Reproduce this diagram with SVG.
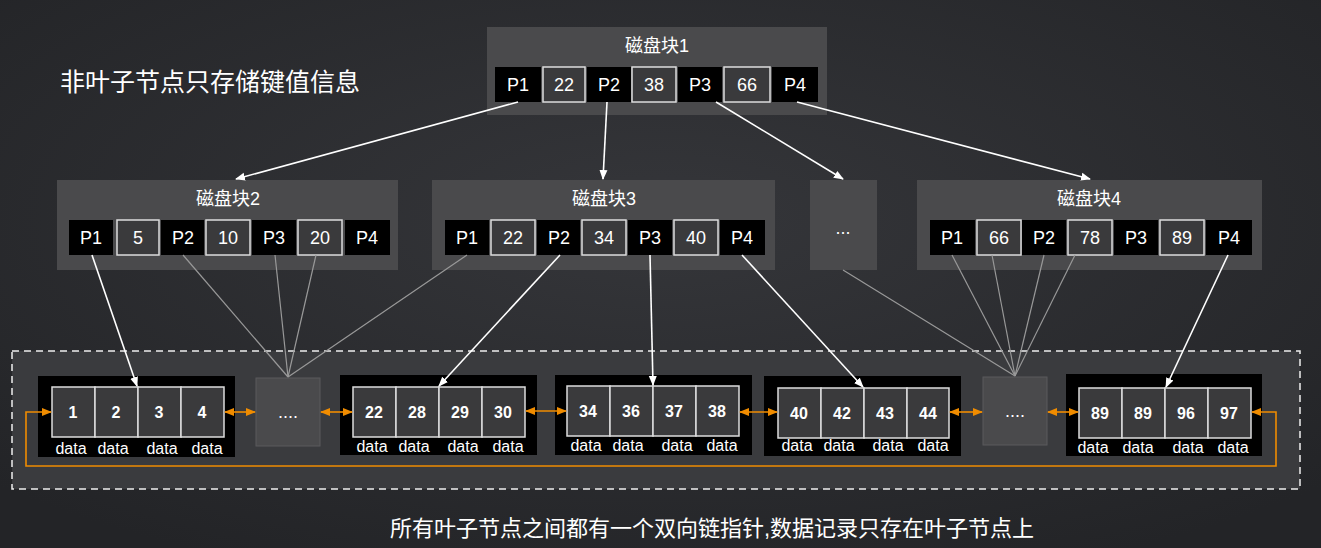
<svg xmlns="http://www.w3.org/2000/svg" width="1321" height="548" viewBox="0 0 1321 548">
<defs>
<marker id="aw" markerWidth="10" markerHeight="10" refX="9" refY="5" orient="auto" markerUnits="userSpaceOnUse"><path d="M0,1 L10,5 L0,9 Z" fill="#fff"/></marker>
<marker id="ao" markerWidth="10" markerHeight="10" refX="9" refY="5" orient="auto-start-reverse" markerUnits="userSpaceOnUse"><path d="M0,1 L10,5 L0,9 Z" fill="#f08c00"/></marker>
<radialGradient id="bg" cx="50%" cy="40%" r="70%"><stop offset="0" stop-color="#35363a"/><stop offset="1" stop-color="#232427"/></radialGradient>
</defs>
<style>
text{font-family:"Liberation Sans","Noto Sans CJK SC",sans-serif;fill:#fff}
.blk{fill:#4a4a4c}
.p{fill:#000}
.k{fill:#3a3a3c;stroke:#ddd;stroke-width:1.5}
.t{font-size:18px;text-anchor:middle}
.c{font-size:18px;text-anchor:middle}
.n{font-size:16px;font-weight:bold;text-anchor:middle}
.d{font-size:16px;text-anchor:middle}
.w{stroke:#fff;stroke-width:1.6;fill:none}
.g{stroke:#999;stroke-width:1.2;fill:none}
.o{stroke:#f08c00;stroke-width:1.6;fill:none}
.dots{fill:#4a4a4c;stroke:#5a5a5c}
</style>
<rect width="1321" height="548" fill="url(#bg)"/>
<rect x="12" y="351" width="1288" height="138" fill="#3a3b3e" stroke="#eee" stroke-width="1.5" stroke-dasharray="7,5"/>
<text x="60" y="91" font-size="25">非叶子节点只存储键值信息</text>
<text x="712" y="536" font-size="22" text-anchor="middle">所有叶子节点之间都有一个双向链指针,数据记录只存在叶子节点上</text>

<g id="root">
<rect class="blk" x="487" y="27" width="340" height="88"/>
<text class="t" x="657" y="52">磁盘块1</text>
<rect class="p" x="495" y="67" width="46" height="35"/><text class="c" x="518" y="91">P1</text>
<rect class="k" x="543" y="67" width="42" height="35"/><text class="c" x="564" y="91">22</text>
<rect class="p" x="587" y="67" width="44" height="35"/><text class="c" x="609" y="91">P2</text>
<rect class="k" x="632" y="67" width="44" height="35"/><text class="c" x="654" y="91">38</text>
<rect class="p" x="678" y="67" width="44" height="35"/><text class="c" x="700" y="91">P3</text>
<rect class="k" x="724" y="67" width="46" height="35"/><text class="c" x="747" y="91">66</text>
<rect class="p" x="772" y="67" width="46" height="35"/><text class="c" x="795" y="91">P4</text>
</g>

<g id="block2">
<rect class="blk" x="57" y="180" width="341" height="90"/>
<text class="t" x="228" y="205">磁盘块2</text>
<rect class="p" x="69" y="220" width="44" height="35"/><text class="c" x="91" y="244">P1</text>
<rect class="k" x="117" y="220" width="42" height="35"/><text class="c" x="138" y="244">5</text>
<rect class="p" x="161" y="220" width="43" height="35"/><text class="c" x="183" y="244">P2</text>
<rect class="k" x="206" y="220" width="44" height="35"/><text class="c" x="228" y="244">10</text>
<rect class="p" x="252" y="220" width="44" height="35"/><text class="c" x="274" y="244">P3</text>
<rect class="k" x="298" y="220" width="44" height="35"/><text class="c" x="320" y="244">20</text>
<rect class="p" x="345" y="220" width="45" height="35"/><text class="c" x="367" y="244">P4</text>
</g>

<g id="block3">
<rect class="blk" x="432" y="180" width="343" height="90"/>
<text class="t" x="604" y="205">磁盘块3</text>
<rect class="p" x="445" y="220" width="44" height="35"/><text class="c" x="467" y="244">P1</text>
<rect class="k" x="491" y="220" width="44" height="35"/><text class="c" x="513" y="244">22</text>
<rect class="p" x="537" y="220" width="43" height="35"/><text class="c" x="559" y="244">P2</text>
<rect class="k" x="582" y="220" width="44" height="35"/><text class="c" x="604" y="244">34</text>
<rect class="p" x="628" y="220" width="44" height="35"/><text class="c" x="650" y="244">P3</text>
<rect class="k" x="674" y="220" width="44" height="35"/><text class="c" x="696" y="244">40</text>
<rect class="p" x="720" y="220" width="45" height="35"/><text class="c" x="742" y="244">P4</text>
</g>

<g id="blockdots">
<rect class="blk" x="810" y="180" width="67" height="90"/>
<text class="c" x="843" y="234">...</text>
</g>

<g id="block4">
<rect class="blk" x="917" y="180" width="345" height="90"/>
<text class="t" x="1089" y="205">磁盘块4</text>
<rect class="p" x="930" y="220" width="45" height="35"/><text class="c" x="952" y="244">P1</text>
<rect class="k" x="977" y="220" width="44" height="35"/><text class="c" x="999" y="244">66</text>
<rect class="p" x="1022" y="220" width="44" height="35"/><text class="c" x="1044" y="244">P2</text>
<rect class="k" x="1068" y="220" width="44" height="35"/><text class="c" x="1090" y="244">78</text>
<rect class="p" x="1114" y="220" width="44" height="35"/><text class="c" x="1136" y="244">P3</text>
<rect class="k" x="1160" y="220" width="44" height="35"/><text class="c" x="1182" y="244">89</text>
<rect class="p" x="1206" y="220" width="46" height="35"/><text class="c" x="1229" y="244">P4</text>
</g>

<g id="leaf1">
<rect class="p" x="38" y="376" width="197" height="81"/>
<rect class="k" x="52" y="387" width="43" height="50"/><rect class="k" x="95" y="387" width="43" height="50"/><rect class="k" x="138" y="387" width="43" height="50"/><rect class="k" x="181" y="387" width="43" height="50"/>
<text class="n" x="73" y="418">1</text><text class="n" x="116" y="418">2</text><text class="n" x="159" y="418">3</text><text class="n" x="202" y="418">4</text>
<text class="d" x="71" y="454">data</text><text class="d" x="113" y="454">data</text><text class="d" x="162" y="454">data</text><text class="d" x="207" y="454">data</text>
</g>
<g id="dots1"><rect class="dots" x="256" y="378" width="64" height="68"/><text class="c" x="288" y="418">....</text></g>
<g id="leaf2">
<rect class="p" x="340" y="375" width="197" height="80"/>
<rect class="k" x="353" y="387" width="43" height="50"/><rect class="k" x="396" y="387" width="43" height="50"/><rect class="k" x="439" y="387" width="43" height="50"/><rect class="k" x="482" y="387" width="43" height="50"/>
<text class="n" x="374" y="418">22</text><text class="n" x="417" y="418">28</text><text class="n" x="460" y="418">29</text><text class="n" x="503" y="418">30</text>
<text class="d" x="372" y="452">data</text><text class="d" x="414" y="452">data</text><text class="d" x="463" y="452">data</text><text class="d" x="508" y="452">data</text>
</g>
<g id="leaf3">
<rect class="p" x="555" y="375" width="197" height="80"/>
<rect class="k" x="567" y="386" width="43" height="50"/><rect class="k" x="610" y="386" width="43" height="50"/><rect class="k" x="653" y="386" width="43" height="50"/><rect class="k" x="696" y="386" width="43" height="50"/>
<text class="n" x="588" y="417">34</text><text class="n" x="631" y="417">36</text><text class="n" x="674" y="417">37</text><text class="n" x="717" y="417">38</text>
<text class="d" x="586" y="451">data</text><text class="d" x="628" y="451">data</text><text class="d" x="677" y="451">data</text><text class="d" x="722" y="451">data</text>
</g>
<g id="leaf4">
<rect class="p" x="764" y="376" width="197" height="80"/>
<rect class="k" x="778" y="388" width="43" height="50"/><rect class="k" x="821" y="388" width="43" height="50"/><rect class="k" x="864" y="388" width="43" height="50"/><rect class="k" x="907" y="388" width="42" height="50"/>
<text class="n" x="799" y="419">40</text><text class="n" x="842" y="419">42</text><text class="n" x="885" y="419">43</text><text class="n" x="928" y="419">44</text>
<text class="d" x="797" y="451">data</text><text class="d" x="839" y="451">data</text><text class="d" x="888" y="451">data</text><text class="d" x="933" y="451">data</text>
</g>
<g id="dots2"><rect class="dots" x="983" y="377" width="64" height="68"/><text class="c" x="1015" y="417">....</text></g>
<g id="leaf5">
<rect class="p" x="1066" y="374" width="196" height="82"/>
<rect class="k" x="1079" y="388" width="43" height="50"/><rect class="k" x="1122" y="388" width="43" height="50"/><rect class="k" x="1165" y="388" width="43" height="50"/><rect class="k" x="1208" y="388" width="43" height="50"/>
<text class="n" x="1100" y="419">89</text><text class="n" x="1143" y="419">89</text><text class="n" x="1186" y="419">96</text><text class="n" x="1229" y="419">97</text>
<text class="d" x="1093" y="453">data</text><text class="d" x="1138" y="453">data</text><text class="d" x="1188" y="453">data</text><text class="d" x="1233" y="453">data</text>
</g>

<g id="connectors">
<line class="w" x1="518" y1="102" x2="236" y2="179" marker-end="url(#aw)"/>
<line class="w" x1="607" y1="102" x2="603" y2="179" marker-end="url(#aw)"/>
<line class="w" x1="716" y1="102" x2="843" y2="179" marker-end="url(#aw)"/>
<line class="w" x1="797" y1="102" x2="1090" y2="179" marker-end="url(#aw)"/>
<line class="w" x1="92" y1="255" x2="137" y2="386" marker-end="url(#aw)"/>
<line class="g" x1="183" y1="255" x2="288" y2="377"/>
<line class="g" x1="275" y1="255" x2="288" y2="377"/>
<line class="g" x1="316" y1="255" x2="288" y2="377"/>
<line class="g" x1="467" y1="255" x2="288" y2="377"/>
<line class="w" x1="560" y1="255" x2="439" y2="386" marker-end="url(#aw)"/>
<line class="w" x1="650" y1="255" x2="653" y2="385" marker-end="url(#aw)"/>
<line class="w" x1="742" y1="255" x2="863" y2="387" marker-end="url(#aw)"/>
<line class="g" x1="843" y1="270" x2="1015" y2="376"/>
<line class="g" x1="952" y1="255" x2="1015" y2="376"/>
<line class="g" x1="992" y1="255" x2="1015" y2="376"/>
<line class="g" x1="1044" y1="255" x2="1015" y2="376"/>
<line class="g" x1="1075" y1="255" x2="1015" y2="376"/>
<line class="w" x1="1228" y1="255" x2="1166" y2="387" marker-end="url(#aw)"/>
<line class="o" x1="225" y1="412" x2="255" y2="412" marker-start="url(#ao)" marker-end="url(#ao)"/>
<line class="o" x1="321" y1="412" x2="352" y2="412" marker-start="url(#ao)" marker-end="url(#ao)"/>
<line class="o" x1="526" y1="411" x2="566" y2="411" marker-start="url(#ao)" marker-end="url(#ao)"/>
<line class="o" x1="740" y1="412" x2="777" y2="412" marker-start="url(#ao)" marker-end="url(#ao)"/>
<line class="o" x1="950" y1="412" x2="982" y2="412" marker-start="url(#ao)" marker-end="url(#ao)"/>
<line class="o" x1="1048" y1="412" x2="1078" y2="412" marker-start="url(#ao)" marker-end="url(#ao)"/>
<polyline class="o" points="1252,412 1276,412 1276,466 26,466 26,412 51,412" marker-start="url(#ao)" marker-end="url(#ao)"/>
</g>
</svg>
